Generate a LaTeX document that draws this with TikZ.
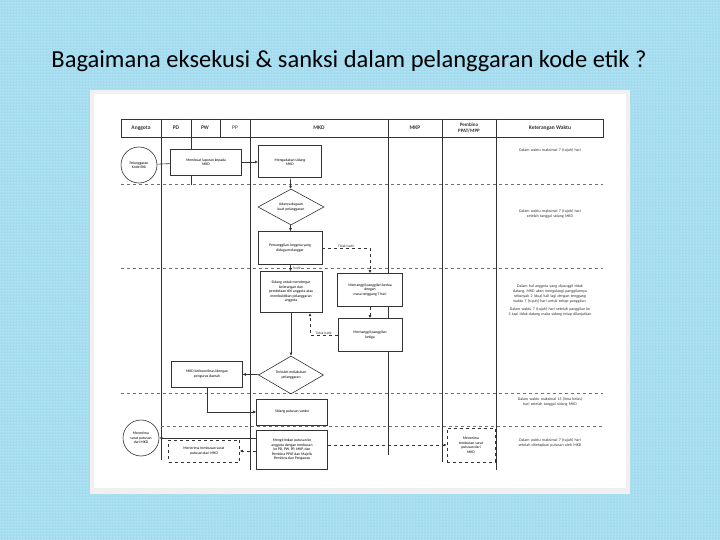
\documentclass[tikz,border=0pt]{standalone}
\usepackage{fontspec}
\setmainfont{Carlito}
\usetikzlibrary{patterns,arrows.meta,shapes.geometric}
\definecolor{bgblue}{HTML}{A3DBEF}
\definecolor{ink}{HTML}{333333}
\begin{document}
\begin{tikzpicture}[x=1pt,y=-1pt,
  box/.style={draw=ink,line width=0.6pt,fill=white,align=center,font=\fontsize{3.8}{4.5}\selectfont,inner sep=1pt},
  dbox/.style={box,dashed},
  dia/.style={draw=ink,line width=0.6pt,diamond,fill=white,align=center,font=\fontsize{3.8}{4.5}\selectfont,inner sep=0pt},
  circ/.style={draw=ink,line width=0.6pt,circle,fill=white,align=center,font=\fontsize{3.8}{4.5}\selectfont,inner sep=0pt,minimum size=36pt},
  hd/.style={font=\bfseries\fontsize{5.5}{6.5}\selectfont,text=ink},
  note/.style={font=\fontsize{4}{5}\selectfont,text=ink,align=center,text width=90pt},
  arr/.style={-{Latex[length=3pt,width=3pt]},line width=0.7pt,draw=ink},
  darr/.style={arr,dashed,line width=0.6pt},
  lane/.style={draw=ink,line width=0.6pt},
  sep/.style={draw=ink!70,dashed,line width=0.5pt},
  lbl/.style={font=\fontsize{3.6}{4}\selectfont,text=ink,fill=white,inner sep=0.5pt}]
\useasboundingbox (0,0) rectangle (720,540);
\fill[bgblue] (0,0) rectangle (720,540);
\fill[pattern=dots,pattern color=white!85!bgblue] (0,0) rectangle (720,540);
\node[font=\fontsize{24.5}{27}\selectfont,text=black] (title) at (349,61) {Bagaimana eksekusi \& sanksi dalam pelanggaran kode etik ?};
\fill[white!94!black] (90,90) rectangle (630,494);
\fill[white] (94,94) rectangle (626,488);
% header
\draw[lane] (121,119) rectangle (603,137);
\foreach \x in {161,191,220,250,388,442,496} \draw[lane] (\x,119) -- (\x,137);
\node[hd] (hA) at (141,128) {Anggota};
\node[hd] (hPD) at (176,128) {PD};
\node[hd] (hPW) at (205,128) {PW};
\node[font=\fontsize{5.5}{6.5}\selectfont,text=ink] (hPP) at (235,128) {PP};
\node[hd] (hM) at (319,128) {MKD};
\node[hd] (hK) at (415,128) {MKP};
\node[hd,align=center,font=\bfseries\fontsize{5}{5.8}\selectfont] (hP) at (469,128) {Pembina\\PPAT/MPP};
\node[hd] (hW) at (550,128) {Keterangan Waktu};
% lanes
\draw[lane] (161,137) -- (161,460);
\draw[lane] (191,137) -- (191,185);
\draw[lane] (250,137) -- (250,470);
\draw[lane] (388,137) -- (388,455);
\draw[lane] (442,137) -- (442,462);
\draw[lane] (496,137) -- (496,470);
\draw[sep] (121,184) -- (603,184);
\draw[sep] (121,268) -- (603,268);
\draw[sep] (121,393) -- (603,393);
\draw[sep] (161,426) -- (603,426);
% nodes
\node[circ] (c1) at (139,165) {Pelanggaran\\Kode Etik};
\node[box,minimum width=71pt,minimum height=26pt] (lap) at (206,162) {Membuat laporan kepada\\MKD};
\node[box,line width=1pt,minimum width=63pt,minimum height=32pt] (sid) at (290,162) {Mengadakan sidang\\MKD};
\node[dia,minimum width=66pt,minimum height=36pt] (d1) at (291,207) {Adanya dugaan\\kuat pelanggaran};
\node[box,minimum width=64pt,minimum height=33pt] (pgl) at (290,248) {Pemanggilan Anggota yang\\diduga melanggar};
\node[box,minimum width=62pt,minimum height=41pt] (sd2) at (291,292) {Sidang untuk mendengar\\keterangan dan\\pembelaan diri anggota atau\\membuktikan pelanggaran\\anggota};
\node[box,minimum width=65pt,minimum height=33pt] (p2) at (370,290) {Memanggil panggilan kedua\\dengan\\masa tenggang 7 hari};
\node[box,minimum width=64pt,minimum height=33pt] (p3) at (370,335) {Memanggil panggilan\\ketiga};
\node[dia,minimum width=65pt,minimum height=36pt] (d2) at (291,375) {Terbukti melakukan\\pelanggaran};
\node[box,minimum width=71pt,minimum height=26pt] (kor) at (207,374) {MKD berkoordinasi dengan\\pengurus daerah};
\node[box,minimum width=71pt,minimum height=26pt] (pts) at (292,412) {Sidang putusan sanksi};
\node[box,minimum width=71pt,minimum height=39pt] (krm) at (292,450) {Mengirimkan putusan ke\\anggota dengan tembusan\\ke PD, PW, PP, MKP, dan\\Pembina PPAT dan Majelis\\Pembina dan Pengawas};
\node[circ] (c2) at (141,438) {Menerima\\surat putusan\\dari MKD};
\node[dbox,minimum width=71pt,minimum height=22pt] (t1) at (204,451) {Menerima tembusan surat\\putusan dari MKD};
\node[dbox,minimum width=48pt,minimum height=34pt] (t2) at (471,445) {Menerima\\tembusan surat\\putusan dari\\MKD};
% connectors
\draw[lane] (c1) -- (lap);
\draw[arr] (lap) -- (sid);
\draw[arr] (sid) -- (d1);
\draw[arr] (d1) -- (pgl);
\draw[arr] (pgl) -- node[lbl,right,xshift=2pt]{hadir} (sd2);
\draw[darr] (pgl.east) -- node[lbl,above]{Tidak hadir} (p2.north |- pgl.east) -- (p2.north);
\draw[darr] (p2) -- (p3);
\draw[darr] (p3.west) -- node[lbl,above]{Tidak hadir} (310,335) -- (310,313);
\draw[arr] (sd2) -- (d2);
\draw[arr] (d2) -- (kor);
\draw[arr] (kor.south) |- (pts.west);
\draw[arr] (krm.west |- c2) -- (c2);
\draw[darr] (krm.west |- t1) -- (t1);
\draw[darr] (krm.east |- t2) -- (t2);
% notes
\node[note] (n1) at (550,150) {Dalam waktu maksimal 7 (tujuh) hari};
\node[note] (n2) at (550,214) {Dalam waktu maksimal 7 (tujuh) hari\\setelah tanggal sidang MKD};
\node[note] (n3) at (550,300) {Dalam hal anggota yang dipanggil tidak datang, MKD akan mengulangi panggilannya sebanyak 2 (dua) kali lagi dengan tenggang waktu 7 (tujuh) hari untuk setiap panggilan.\\[3pt] Dalam waktu 7 (tujuh) hari setelah panggilan ke 3 tapi tidak datang maka sidang tetap dilanjutkan};
\node[note] (n4) at (550,402) {Dalam waktu maksimal 15 (lima belas)\\hari setelah tanggal sidang MKD};
\node[note] (n5) at (550,443) {Dalam waktu maksimal 7 (tujuh) hari\\setelah ditetapkan putusan oleh MKD};
\end{tikzpicture}
\end{document}
